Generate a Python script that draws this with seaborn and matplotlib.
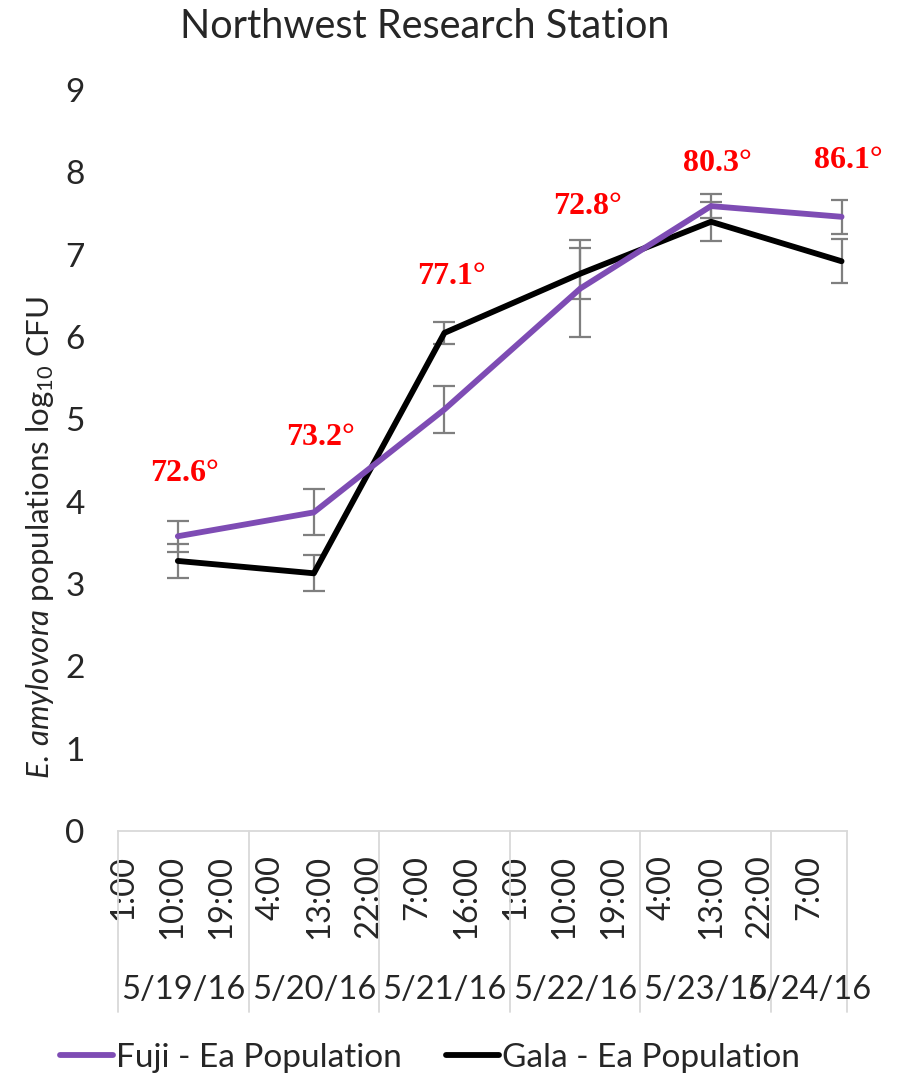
import pandas as pd
import seaborn as sns
import matplotlib.pyplot as plt
import matplotlib.transforms as mtransforms

# sampling times, hours counted from 5/19/16 0:00
sample_hours = [11, 36, 60, 85, 109, 133]
fuji = [3.58, 3.87, 5.12, 6.59, 7.59, 7.46]
fuji_err = [0.19, 0.28, 0.29, 0.59, 0.15, 0.21]
gala = [3.28, 3.13, 6.05, 6.77, 7.40, 6.92]
gala_err = [0.21, 0.22, 0.13, 0.31, 0.24, 0.27]
temps = ["72.6°", "73.2°", "77.1°", "72.8°", "80.3°", "86.1°"]
# gap (points) between the highest error bar and each temperature label
label_gap = [34, 37, 33, 24, 22, 28]

days = ["5/19/16", "5/20/16", "5/21/16", "5/22/16", "5/23/16", "5/24/16"]
day_start = [0, 24, 48, 72, 96, 120]
axis_end = 134
hour_ticks = list(range(1, 134, 9))
hour_labels = [f"{h % 24}:00" for h in hour_ticks]

df = pd.DataFrame({
    "hour": sample_hours * 2,
    "cfu": fuji + gala,
    "series": ["Fuji - Ea Population"] * 6 + ["Gala - Ea Population"] * 6,
})

sns.set_style("white")
plt.rcParams["font.family"] = ["Lato", "DejaVu Sans"]
plt.rcParams["mathtext.fontset"] = "custom"
plt.rcParams["mathtext.rm"] = "Lato"
plt.rcParams["mathtext.it"] = "Lato:italic"

purple = "#7E4CB4"
fig = plt.figure(figsize=(9.07, 10.8), dpi=100)
ax = fig.add_axes([118 / 907, 1 - 831 / 1080, 729 / 907, 741 / 1080])

# error bars under the lines
ax.errorbar(sample_hours, fuji, yerr=fuji_err, fmt="none", ecolor="#7f7f7f",
            elinewidth=1.6, capsize=8, capthick=1.6, zorder=1)
ax.errorbar(sample_hours, gala, yerr=gala_err, fmt="none", ecolor="#7f7f7f",
            elinewidth=1.6, capsize=8, capthick=1.6, zorder=1)

sns.lineplot(data=df, x="hour", y="cfu", hue="series",
             hue_order=["Gala - Ea Population", "Fuji - Ea Population"],
             palette={"Fuji - Ea Population": purple, "Gala - Ea Population": "black"},
             linewidth=4.2, ax=ax, legend=False, zorder=3)

# temperature labels above each sampling point
for h, f, fe, g, ge, t, gap in zip(sample_hours, fuji, fuji_err, gala, gala_err, temps, label_gap):
    top = max(f + fe, g + ge)
    ax.annotate(t, (h, top), xytext=(5, gap), textcoords="offset points",
                ha="center", va="center", color="red", fontsize=23,
                fontweight="bold", family="Liberation Serif")

ax.set_xlim(0, axis_end)
ax.set_ylim(0, 9)
ax.set_yticks(range(10))
ax.tick_params(axis="y", length=0, pad=24, labelsize=24)
ax.set_xticks(hour_ticks)
ax.set_xticklabels(hour_labels, rotation=90, va="top")
ax.tick_params(axis="x", length=0, pad=17, labelsize=23.5)
ax.set_xlabel("")
ax.set_ylabel("")
for s in ["left", "right", "top"]:
    ax.spines[s].set_visible(False)
ax.spines["bottom"].set_color("#d9d9d9")
ax.spines["bottom"].set_linewidth(1.3)

# two-level category axis: day separators and date labels
trans = mtransforms.blended_transform_factory(ax.transData, ax.transAxes)
low = -(1012 - 831) / 741
for x in day_start + [axis_end]:
    ax.plot([x, x], [0, low], color="#d9d9d9", lw=1.3, transform=trans, clip_on=False)
for i, d in enumerate(days):
    end = day_start[i + 1] if i + 1 < len(day_start) else axis_end
    ax.text((day_start[i] + end) / 2, -(990 - 831) / 741, d, transform=trans,
            ha="center", va="center", fontsize=23.5)

fig.text(425 / 907, 1 - 27 / 1080, "Northwest Research Station", ha="center",
         va="center", fontsize=28.5)
fig.text(40 / 907, 1 - 537 / 1080,
         r"$\mathit{E.}\,\mathit{amylovora}$ populations log$_{10}$ CFU",
         rotation=90, ha="center", va="center", fontsize=22.5)

handles = [plt.Line2D([], [], color=purple, lw=4.2),
           plt.Line2D([], [], color="black", lw=4.2)]
fig.legend(handles, ["Fuji - Ea Population", "Gala - Ea Population"],
           loc="center", bbox_to_anchor=(0.474, 1 - 1058 / 1080), ncol=2,
           frameon=False, fontsize=24, handlelength=1.6, handletextpad=0.1,
           columnspacing=1.3)

fig.savefig("out.png", dpi=100)
